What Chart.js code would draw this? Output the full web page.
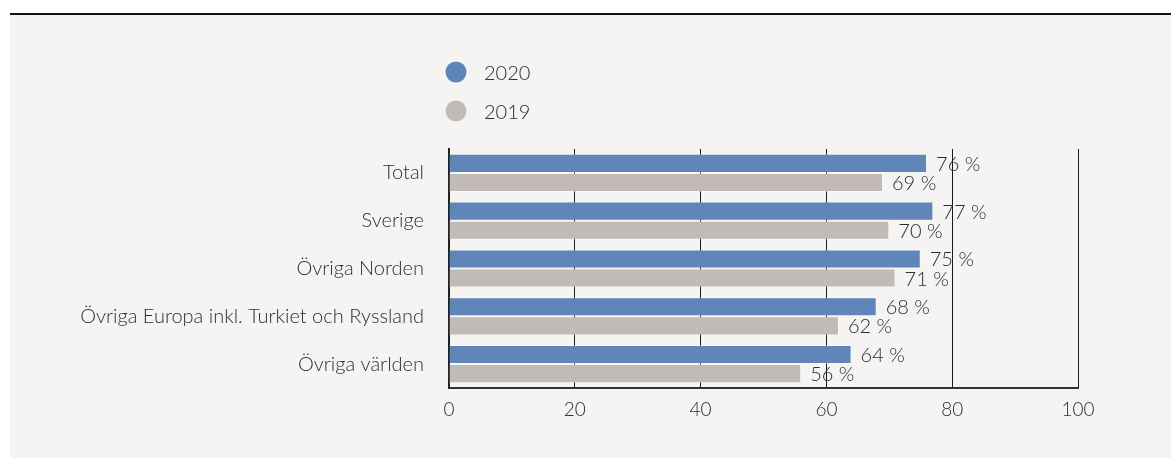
<!DOCTYPE html>
<html>
<head>
<meta charset="utf-8">
<script src="https://cdn.jsdelivr.net/npm/chart.js@4.4.0/dist/chart.umd.min.js"></script>
<style>
  html, body { margin: 0; padding: 0; background: #ffffff; }
  #c { display: block; }
</style>
</head>
<body>
<canvas id="c" width="1171" height="458"></canvas>
<script>
const categories = ['Total', 'Sverige', 'Övriga Norden', 'Övriga Europa inkl. Turkiet och Ryssland', 'Övriga världen'];
const seriesLabels = ['2020', '2019'];
const values2020 = [76, 77, 75, 68, 64];
const values2019 = [69, 70, 71, 62, 56];
const xTicks = [0, 20, 40, 60, 80, 100];

const FONT = 'Lato, "Open Sans", sans-serif';
const TEXT = '#2e2e2e';

const backgroundPlugin = {
  id: 'bg',
  beforeDraw(chart) {
    const ctx = chart.ctx;
    ctx.save();
    ctx.fillStyle = '#ffffff';
    ctx.fillRect(0, 0, chart.width, chart.height);
    ctx.fillStyle = '#f5f4f2';
    ctx.fillRect(10, 15, chart.width - 10, chart.height - 15);
    ctx.fillStyle = '#111111';
    ctx.fillRect(10, 13, chart.width - 10, 2);
    ctx.restore();
  }
};

const legendPlugin = {
  id: 'customLegend',
  afterDraw(chart) {
    const ctx = chart.ctx;
    ctx.save();
    chart.data.datasets.forEach((ds, i) => {
      const cy = 72 + i * 39;
      ctx.beginPath();
      ctx.fillStyle = ds.backgroundColor;
      ctx.arc(456, cy, 10.5, 0, Math.PI * 2);
      ctx.fill();
      ctx.fillStyle = TEXT;
      ctx.font = '300 20px ' + FONT;
      ctx.textAlign = 'left';
      ctx.textBaseline = 'middle';
      ctx.fillText(ds.label, 484, cy + 2);
    });
    ctx.restore();
  }
};

const valueLabelPlugin = {
  id: 'valueLabels',
  afterDatasetsDraw(chart) {
    const ctx = chart.ctx;
    ctx.save();
    ctx.fillStyle = TEXT;
    ctx.font = '300 20px ' + FONT;
    ctx.textAlign = 'left';
    ctx.textBaseline = 'middle';
    chart.data.datasets.forEach((ds, di) => {
      const meta = chart.getDatasetMeta(di);
      meta.data.forEach((el, i) => {
        ctx.fillText(ds.data[i] + ' %', el.x + 9, el.y + 1);
      });
    });
    ctx.restore();
  }
};

new Chart(document.getElementById('c'), {
  type: 'bar',
  data: {
    labels: categories,
    datasets: [
      { label: seriesLabels[0], data: values2020, backgroundColor: '#6085b9', borderColor: 'rgba(255,255,255,0.35)', borderWidth: 1 },
      { label: seriesLabels[1], data: values2019, backgroundColor: '#c2bab6', borderColor: 'rgba(255,255,255,0.35)', borderWidth: 1 }
    ]
  },
  options: {
    indexAxis: 'y',
    responsive: false,
    animation: false,
    devicePixelRatio: 1,
    layout: { padding: { left: 0, top: 149, right: 93, bottom: 20 } },
    datasets: { bar: { categoryPercentage: 0.8, barPercentage: 1.0 } },
    plugins: {
      legend: { display: false },
      tooltip: { enabled: false }
    },
    scales: {
      x: {
        type: 'linear',
        min: 0,
        max: 100,
        afterBuildTicks(scale) { scale.ticks = xTicks.map(v => ({ value: v })); },
        afterFit(scale) { scale.height = 50; },
        ticks: { color: TEXT, font: { family: FONT, size: 19, weight: 300 }, padding: 10 },
        grid: { color: '#1a1a1a', lineWidth: 1, drawTicks: false },
        border: { color: '#333333', width: 2 }
      },
      y: {
        afterFit(scale) { scale.width = 449; },
        ticks: { color: TEXT, font: { family: FONT, size: 20, weight: 300 }, padding: 25 },
        grid: { display: false, drawTicks: false },
        border: { color: '#222222', width: 2 }
      }
    }
  },
  plugins: [backgroundPlugin, legendPlugin, valueLabelPlugin]
});
</script>
</body>
</html>
